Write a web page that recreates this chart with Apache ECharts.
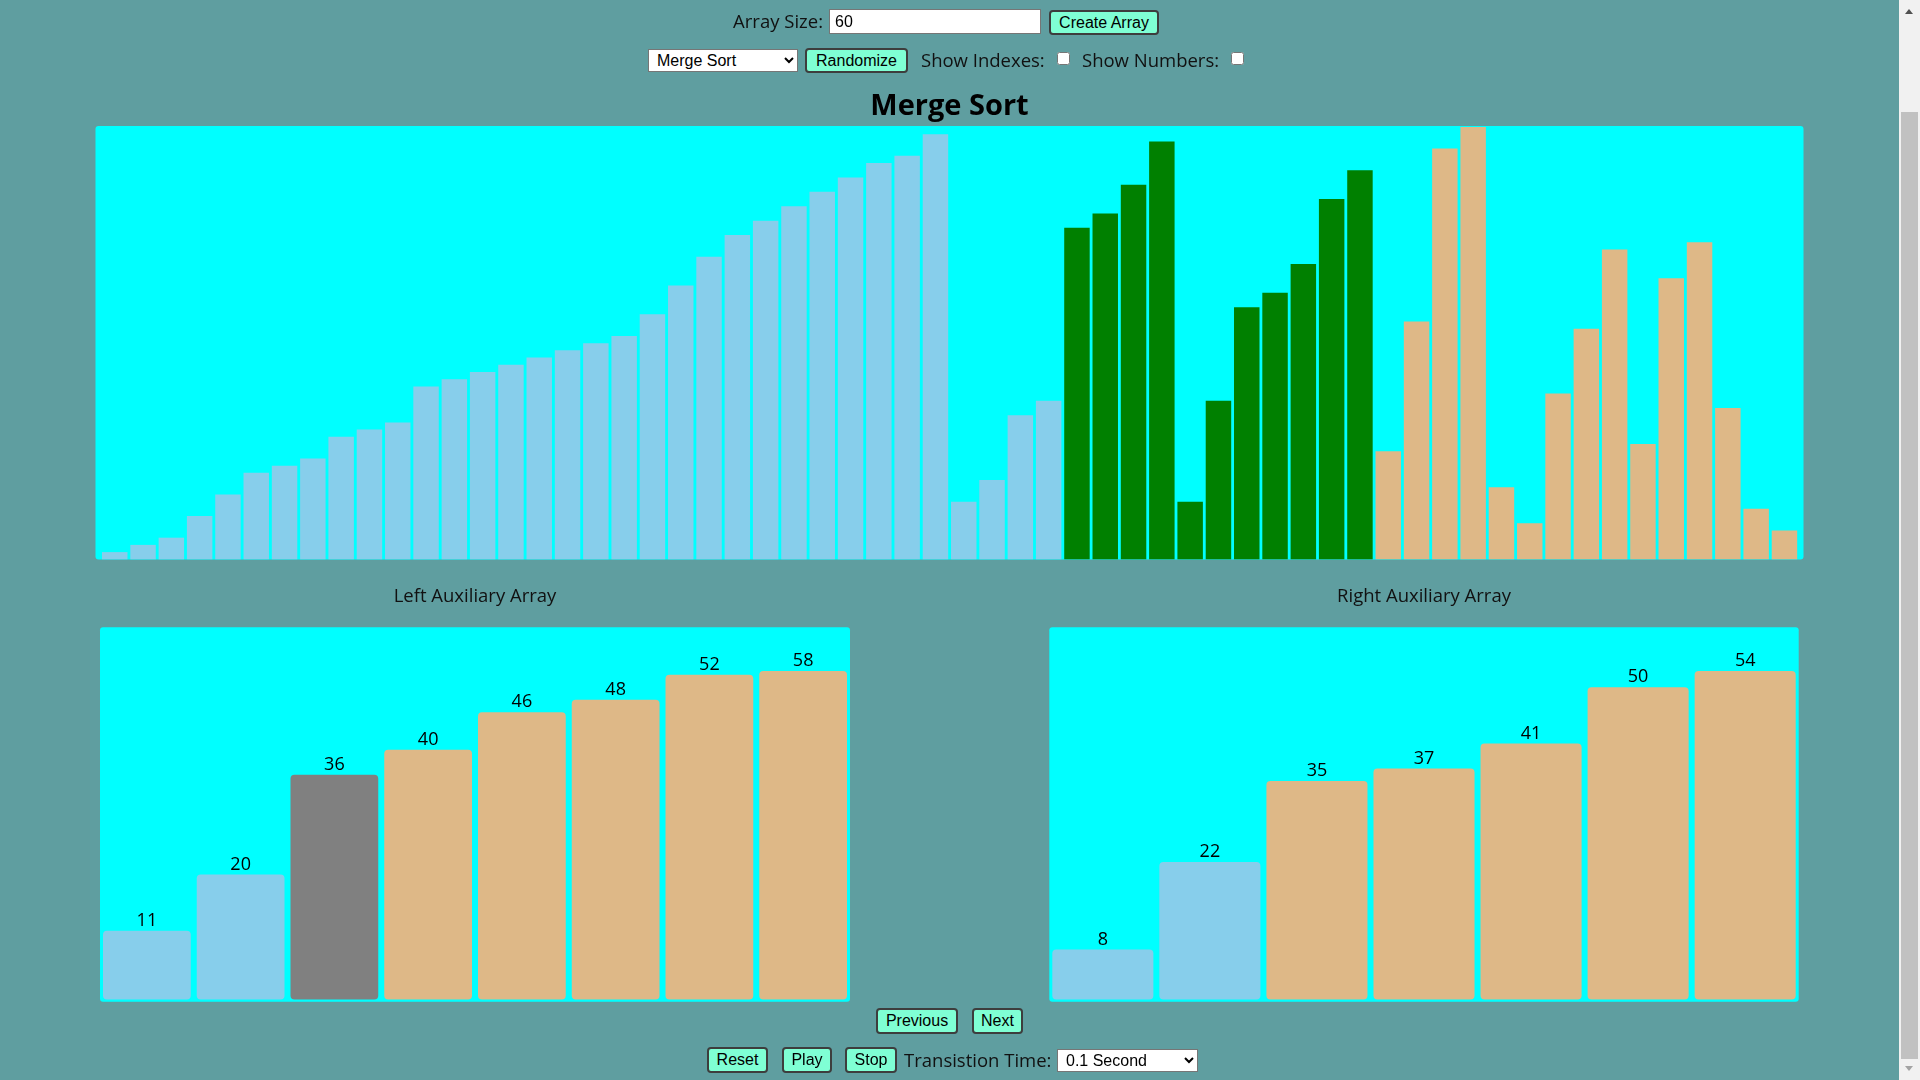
<!DOCTYPE html>
<html>
<head>
<meta charset="utf-8">
<title>Merge Sort</title>
<script src="https://cdn.jsdelivr.net/npm/echarts/dist/echarts.min.js"></script>
<style>
html,body{margin:0;padding:0;width:1920px;height:1080px;overflow:hidden;background:#5F9EA0;}
#chart{position:absolute;left:0;top:0;width:1899px;height:1080px;z-index:1;}
.ctl{position:absolute;box-sizing:border-box;z-index:2;margin:0;}
.lbl{position:absolute;font-family:'Open Sans',sans-serif;font-size:18.5px;color:#111;line-height:24px;height:24px;white-space:nowrap;z-index:2;}
button.ctl{font-family:'Liberation Sans',Arial,sans-serif;font-size:16px;background:#7FFFD4;border:2px solid #3d3d3d;border-radius:4px;padding:0;color:#000;line-height:18px;}
select.ctl{font-family:'Liberation Sans',Arial,sans-serif;font-size:16px;background:#fff;border:1px solid #767676;border-radius:0;padding:0 0 0 4px;color:#000;}
input.txt{font-family:'Liberation Sans',Arial,sans-serif;font-size:16px;background:#fff;border:1px solid #767676;padding:0 0 0 5px;color:#000;}
input.chk{width:13px;height:13px;}
#sbTrack{position:absolute;left:1899px;top:0;width:21px;height:1080px;background:#f1f1f1;z-index:3;}
#sbThumb{position:absolute;left:2px;top:112px;width:17px;height:947px;background:#c1c1c1;}
.arr{position:absolute;left:6px;width:0;height:0;border-left:4.5px solid transparent;border-right:4.5px solid transparent;}
#arrUp{top:9px;border-bottom:5px solid #505050;}
#arrDn{top:1066px;border-top:5px solid #a3a3a3;}
</style>
</head>
<body>
<div id="chart"></div>

<span class="lbl" style="left:700px;width:123px;top:9px;text-align:right;">Array Size:</span>
<input class="ctl txt" type="text" value="60" style="left:829px;top:9px;width:212px;height:25px;">
<button class="ctl" style="left:1049px;top:10px;width:110px;height:25px;">Create Array</button>

<select class="ctl" style="left:648px;top:49px;width:150px;height:23px;"><option>Merge Sort</option></select>
<button class="ctl" style="left:805px;top:48px;width:103px;height:25px;">Randomize</button>
<span class="lbl" style="left:921px;top:48px;">Show Indexes:</span>
<input class="ctl chk" type="checkbox" style="left:1057px;top:52px;">
<span class="lbl" style="left:1082px;top:48px;">Show Numbers:</span>
<input class="ctl chk" type="checkbox" style="left:1231px;top:52px;">

<button class="ctl" style="left:876px;top:1008px;width:82px;height:26px;">Previous</button>
<button class="ctl" style="left:972px;top:1008px;width:51px;height:26px;">Next</button>
<button class="ctl" style="left:707px;top:1047px;width:61px;height:26px;">Reset</button>
<button class="ctl" style="left:782px;top:1047px;width:50px;height:26px;">Play</button>
<button class="ctl" style="left:845px;top:1047px;width:52px;height:26px;">Stop</button>
<span class="lbl" style="left:904px;top:1048px;">Transistion Time:</span>
<select class="ctl" style="left:1057px;top:1049px;width:141px;height:23px;"><option>0.1 Second</option></select>

<div id="sbTrack"><div id="arrUp" class="arr"></div><div id="sbThumb"></div><div id="arrDn" class="arr"></div></div>

<script>
// ---- data ----
const mainSorted  = [1,2,3,6,9,12,13,14,17,18,19,24,25,26,27,28,29,30,31,34,38,42,45,47,49,51,53,55,56,59,8,11,20,22];
const mainActive  = [46,48,52,58,8,22,35,37,41,50,54];
const mainPending = [15,33,57,60,10,5,23,32,43,16,39,44,21,7,4];
const leftAux  = [11,20,36,40,46,48,52,58];
const rightAux = [8,22,35,37,41,50,54];
const leftPlacedCount = 2;   // light blue in left aux
const leftCompareIndex = 2;  // gray in left aux
const rightPlacedCount = 2;  // light blue in right aux
const mainMax = 60;          // value scale shared by all three charts

// ---- colours ----
const C_SORTED = '#87CEEB', C_ACTIVE = '#008000', C_PENDING = '#DEB887', C_COMPARE = '#808080', C_PANEL = '#00FFFF';
const FONT = "'Open Sans', sans-serif";

const mainItems = []
  .concat(mainSorted.map(v => ({value: v, itemStyle: {color: C_SORTED}})))
  .concat(mainActive.map(v => ({value: v, itemStyle: {color: C_ACTIVE}})))
  .concat(mainPending.map(v => ({value: v, itemStyle: {color: C_PENDING}})));
const mainCats = mainItems.map((d, i) => String(i));

const leftItems = leftAux.map((v, i) => ({value: v, itemStyle: {color: i < leftPlacedCount ? C_SORTED : (i === leftCompareIndex ? C_COMPARE : C_PENDING)}}));
const rightItems = rightAux.map((v, i) => ({value: v, itemStyle: {color: i < rightPlacedCount ? C_SORTED : C_PENDING}}));

// ---- layout ----
const MAIN_PANEL = {x: 95.5, y: 126, w: 1708, h: 433.5};
const MAIN_GRID = {left: 100.6, top: 127, width: 1698, height: 432.3};
const L_PANEL = {x: 100, y: 627.3, w: 750, h: 374.4};
const R_PANEL = {x: 1049.3, y: 627.3, w: 749.4, h: 374.4};
// aux value scale spans AUX_SCALE_TOP..AUX_BOTTOM for 0..mainMax, bars are clipped at AUX_TOP
const AUX_SCALE_TOP = 624.8, AUX_TOP = 671, AUX_BOTTOM = 999.5;
const auxAxisMax = mainMax * (AUX_BOTTOM - AUX_TOP) / (AUX_BOTTOM - AUX_SCALE_TOP);

const chart = echarts.init(document.getElementById('chart'), null, {renderer: 'canvas'});

function panel(p) {
  return {type: 'rect', shape: {x: p.x, y: p.y, width: p.w, height: p.h, r: 3}, style: {fill: C_PANEL}, z: -10, silent: true};
}
const labelStyle = {show: true, position: 'top', distance: 1, color: '#000', fontSize: 18, fontFamily: FONT};

chart.setOption({
  backgroundColor: 'transparent',
  animation: false,
  graphic: [panel(MAIN_PANEL), panel(L_PANEL), panel(R_PANEL)],
  title: [
    {text: 'Merge Sort', left: 949.5, top: 106.5, textAlign: 'center', textVerticalAlign: 'middle', padding: 0,
     textStyle: {fontFamily: FONT, fontSize: 29, fontWeight: 'bold', color: '#000'}},
    {text: 'Left Auxiliary Array', left: L_PANEL.x + L_PANEL.w / 2, top: 597, textAlign: 'center', textVerticalAlign: 'middle', padding: 0,
     textStyle: {fontFamily: FONT, fontSize: 18.5, fontWeight: 'normal', color: '#111'}},
    {text: 'Right Auxiliary Array', left: R_PANEL.x + R_PANEL.w / 2, top: 597, textAlign: 'center', textVerticalAlign: 'middle', padding: 0,
     textStyle: {fontFamily: FONT, fontSize: 18.5, fontWeight: 'normal', color: '#111'}}
  ],
  grid: [
    {left: MAIN_GRID.left, top: MAIN_GRID.top, width: MAIN_GRID.width, height: MAIN_GRID.height, containLabel: false},
    {left: L_PANEL.x, top: AUX_TOP, width: L_PANEL.w, height: AUX_BOTTOM - AUX_TOP, containLabel: false},
    {left: R_PANEL.x, top: AUX_TOP, width: R_PANEL.w, height: AUX_BOTTOM - AUX_TOP, containLabel: false}
  ],
  xAxis: [
    {type: 'category', gridIndex: 0, data: mainCats, show: false},
    {type: 'category', gridIndex: 1, data: leftAux.map((v, i) => String(i)), show: false},
    {type: 'category', gridIndex: 2, data: rightAux.map((v, i) => String(i)), show: false}
  ],
  yAxis: [
    {type: 'value', gridIndex: 0, min: 0, max: mainMax, show: false},
    {type: 'value', gridIndex: 1, min: 0, max: auxAxisMax, show: false},
    {type: 'value', gridIndex: 2, min: 0, max: auxAxisMax, show: false}
  ],
  series: [
    {type: 'bar', xAxisIndex: 0, yAxisIndex: 0, data: mainItems, barCategoryGap: '10%', silent: true},
    {type: 'bar', xAxisIndex: 1, yAxisIndex: 1, data: leftItems, barCategoryGap: '6.4%', clip: true, itemStyle: {borderRadius: 4}, label: labelStyle, silent: true},
    {type: 'bar', xAxisIndex: 2, yAxisIndex: 2, data: rightItems, barCategoryGap: '5.6%', clip: true, itemStyle: {borderRadius: 4}, label: labelStyle, silent: true}
  ]
});
</script>
</body>
</html>
